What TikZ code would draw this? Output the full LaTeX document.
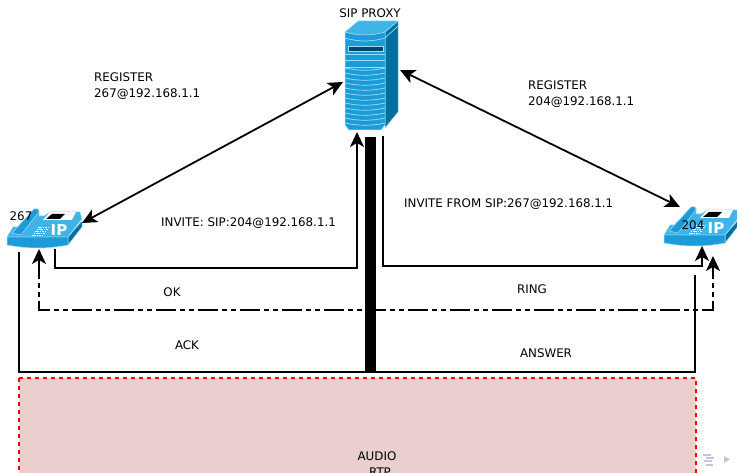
\documentclass[tikz,border=0pt]{standalone}
\usepackage{fontspec}
\setmainfont{DejaVu Sans}
\usetikzlibrary{arrows.meta}
\definecolor{srvA}{HTML}{1B9CD8}
\definecolor{srvB}{HTML}{006E9E}
\definecolor{srvC}{HTML}{3FB4E6}
\definecolor{srvL}{HTML}{9FDCF5}
\definecolor{audio}{HTML}{EBCFCF}
\definecolor{navc}{HTML}{C4C4E6}
\tikzset{
  lbl/.style={font=\fontsize{11.85}{16}\selectfont,inner sep=0pt,align=left,text=black},
  tip/.style={-{Stealth[length=15pt,width=14pt,inset=4pt]}},
  conn/.style={line width=1.8pt,tip},
  both/.style={line width=1.8pt,{Stealth[length=15pt,width=14pt,inset=4pt]}-{Stealth[length=15pt,width=14pt,inset=4pt]}},
  plain/.style={line width=1.8pt},
  dd/.style={line width=1.8pt,dash pattern=on 20pt off 4pt on 5pt off 4pt on 5pt off 4pt,{Stealth[length=15pt,width=14pt,inset=4pt]}-{Stealth[length=15pt,width=14pt,inset=4pt]}},
  edgeL/.style={draw=srvL,line width=.7pt},
  skin/.style={draw=srvL,line width=.5pt},
}
\newcommand{\ipphone}[1]{%
\begin{scope}[shift={(#1)}]
  \path[fill=srvB,skin] (61,30) -- (75,14) -- (75,20) -- (61,38) -- cycle;
  \path[fill=srvA,skin] (0,30) -- (61,30) -- (61,38) .. controls (40,42) and (22,42) .. (0,38) -- cycle;
  \path[fill=srvC,skin] (0,30) -- (6,20) -- (15,20) -- (27,3) -- (32,3) -- (32,9) -- (37,9) -- (43,5) -- (73,5) -- (75,12) -- (61,30) -- cycle;
  \path[fill=srvA,skin] (5,26) -- (27,2) -- (31,2) -- (31,6) -- (14,28) -- cycle;
  \path[fill=white] (36,13) -- (43,5) -- (69,5) -- (65,13) -- cycle;
  \path[fill=black] (39,12) -- (45,7) -- (58,7) -- (53,12) -- cycle;
  \foreach \yy/\xa in {20/31,22/29.5,24/28,26/26.5,28/25}
    \draw[white,line width=.9pt,dash pattern=on 1.6pt off .8pt] (\xa,\yy) -- (\xa+11,\yy);
  \node[font=\bfseries\fontsize{15}{15}\selectfont,text=white,inner sep=0pt] at (52,23) {IP};
\end{scope}}
\begin{document}
\begin{tikzpicture}[x=1pt,y=-1pt]
\useasboundingbox (0,0) rectangle (737,473);
\clip (0,0) rectangle (737,473);
% audio box
\fill[audio] (19,378) rectangle (696,473);
\draw[red,line width=1.5pt,dash pattern=on 4pt off 4pt] (19,378) -- (696,378) -- (696,473);
\draw[red,line width=1.5pt,dash pattern=on 4pt off 4pt] (19,378) -- (19,473);
\node[lbl] (audiolbl) at (377,456) {AUDIO};
\node[lbl] (rtplbl) at (380,472.5) {RTP};
% server
\path[fill=srvB,skin] (385,32) -- (398,21) -- (398,112) -- (385,128) -- cycle;
\path[fill=srvC,skin] (345,32) -- (358,21) -- (398,21) -- (385,32) .. controls (372,36) and (358,36) .. (345,32) -- cycle;
\path[fill=srvA,skin] (345,32) .. controls (358,36) and (372,36) .. (385,32) -- (385,125) -- (381,130) -- (349,130) -- (345,125) -- cycle;
\draw[edgeL] (385,38) -- (398,26);
\draw[edgeL] (345,38) .. controls (358,42) and (372,42) .. (385,38);
\path[fill=srvB!65!black,draw=srvL,line width=.6pt] (348,46) rectangle (383,51);
\draw[edgeL] (345,54) -- (385,54);
\draw[edgeL] (345,60) -- (385,60);
\draw[edgeL] (345,67) -- (385,67);
\foreach \yy in {70,75,80,85,90,95,100,105,110,115,120,125}
  \draw[edgeL] (345,\yy-2) .. controls (358,\yy+1) and (372,\yy+1) .. (385,\yy-2);
\node[lbl] (proxylbl) at (370,13) {SIP PROXY};
% phones
\ipphone{7,207}
\ipphone{664,205}
\node[lbl] (p267) at (21,216.5) {267};
\node[lbl] (p204) at (693,225.5) {204};
% named connector ends
\coordinate (srvNW) at (343,82);
\coordinate (srvNE) at (400,70);
\coordinate (srvS1) at (357,132);
\coordinate (srvS2) at (383,136);
\coordinate (ph1NE) at (82,223);
\coordinate (ph1S1) at (55,249);
\coordinate (ph1S2) at (39,249);
\coordinate (ph1S3) at (19,252);
\coordinate (ph2NW) at (680,207);
\coordinate (ph2S1) at (702,246);
\coordinate (ph2S2) at (713,256);
\coordinate (ph2S3) at (695,275);
\coordinate (busL) at (39,310);
\coordinate (busR) at (713,310);
\coordinate (ackL) at (19,372);
\coordinate (ackR) at (695,372);
% connectors
\draw[both] (ph1NE) -- (srvNW);
\draw[both] (srvNE) -- (ph2NW);
\draw[conn] (ph1S1) -- (55,268) -- (357,268) -- (srvS1);
\draw[conn] (srvS2) -- (383,266) -- (702,266) -- (ph2S1);
\draw[dd] (ph1S2) -- (busL) -- (busR) -- (ph2S2);
\draw[plain] (ph1S3) -- (ackL) -- (ackR) -- (ph2S3);
\fill[black] (364.5,137) rectangle (376,372);
% labels
\node[lbl,anchor=west] (reg1) at (94,86.5) {REGISTER\\267@192.168.1.1};
\node[lbl,anchor=west] (reg2) at (528,94.5) {REGISTER\\204@192.168.1.1};
\node[lbl,anchor=west] (inv1) at (161,223) {INVITE: SIP:204@192.168.1.1};
\node[lbl,anchor=west] (inv2) at (404,204) {INVITE FROM SIP:267@192.168.1.1};
\node[lbl] (ok) at (172,292) {OK};
\node[lbl] (ring) at (532,289.5) {RING};
\node[lbl] (ack) at (187,345) {ACK};
\node[lbl] (answer) at (546,353) {ANSWER};
% nav symbols
\foreach \xx/\yy/\ww in {703/454/8,706/457/8,704/460/8,706/464/7}
  \fill[navc] (\xx,\yy) rectangle +(\ww,1.5);
\fill[navc] (724,456) -- (730,459.5) -- (724,463) -- cycle;
\end{tikzpicture}
\end{document}
